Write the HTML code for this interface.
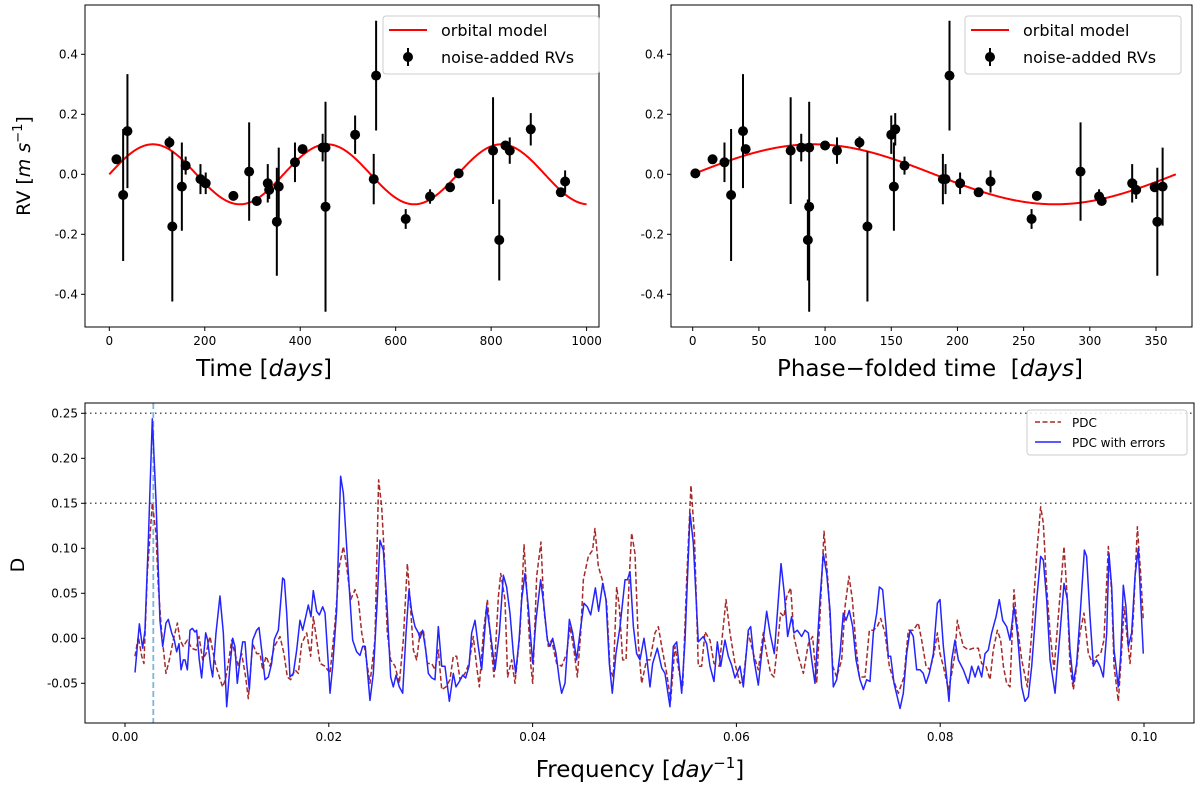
<!DOCTYPE html>
<html><head><meta charset="utf-8"><style>
html,body{margin:0;padding:0;background:#fff;}
svg{display:block;font-family:"DejaVu Sans","Liberation Sans",sans-serif;}
</style></head><body>
<svg id="fig" width="1200" height="787" viewBox="0 0 1200 787" xmlns="http://www.w3.org/2000/svg"></svg>
<script>
// ---- RV data (time in days, RV in m/s, error) ----
const rvTime=[15,29,38,126,132,152,160,191,202,260,293,309,332,335,351,355,389,405,447,453,453,515,559,554,621,672,714,732,804,817,830,839,883,946,955];
const rvValue=[0.05,-0.069,0.144,0.106,-0.174,-0.041,0.029,-0.016,-0.03,-0.072,0.009,-0.089,-0.03,-0.052,-0.158,-0.041,0.04,0.084,0.089,0.089,-0.108,0.132,0.329,-0.016,-0.149,-0.074,-0.043,0.003,0.079,-0.219,0.096,0.079,0.15,-0.06,-0.024];
const rvError=[0.012,0.22,0.19,0.02,0.25,0.147,0.03,0.05,0.036,0.01,0.164,0.01,0.064,0.03,0.18,0.13,0.066,0.01,0.046,0.01,0.35,0.064,0.183,0.084,0.033,0.024,0.01,0.01,0.178,0.135,0.01,0.044,0.054,0.01,0.037];
const modelAmp=0.1, modelPeriod=365;
const topYTicks=[-0.4,-0.2,0.0,0.2,0.4];
const leftXTicks=[0,200,400,600,800,1000];
const rightXTicks=[0,50,100,150,200,250,300,350];
// ---- PDC periodogram ----
const freqBlue=[0.00098,0.00141,0.00173,0.00196,0.00229,0.00268,0.00304,0.00343,0.0037,0.00402,0.00425,0.00458,0.00484,0.00507,0.0053,0.0055,0.00572,0.00589,0.00612,0.00638,0.00661,0.00687,0.00703,0.00729,0.00752,0.00792,0.00811,0.00841,0.0086,0.00893,0.00932,0.00965,0.00998,0.0103,0.01057,0.01079,0.01102,0.01129,0.01155,0.01178,0.01194,0.0122,0.01253,0.01292,0.01315,0.01341,0.01374,0.01407,0.01439,0.01466,0.01505,0.01547,0.01564,0.01587,0.01619,0.01652,0.01685,0.01717,0.01744,0.01766,0.01799,0.01825,0.01848,0.01881,0.01907,0.0194,0.01963,0.01995,0.02012,0.02038,0.02077,0.02116,0.02143,0.02175,0.02208,0.02234,0.02273,0.02306,0.02332,0.02358,0.02404,0.02437,0.02476,0.02502,0.02535,0.02568,0.02607,0.02633,0.0266,0.02692,0.02725,0.02758,0.02787,0.02813,0.02846,0.02879,0.02895,0.02921,0.02951,0.02977,0.0301,0.03042,0.03075,0.03108,0.0314,0.03183,0.03222,0.03248,0.03281,0.03314,0.03343,0.03376,0.03402,0.03435,0.03467,0.035,0.03549,0.03582,0.03631,0.03674,0.03713,0.03745,0.03778,0.03811,0.03834,0.03867,0.03893,0.03925,0.03958,0.04001,0.04033,0.04079,0.04112,0.04145,0.04171,0.04197,0.0423,0.04262,0.04285,0.04318,0.04361,0.04393,0.04432,0.04465,0.04504,0.04537,0.0457,0.04616,0.04648,0.04688,0.0472,0.04753,0.04782,0.04818,0.04858,0.04907,0.0493,0.04956,0.04989,0.05021,0.05054,0.05093,0.05119,0.05152,0.05178,0.05224,0.05267,0.05299,0.05348,0.05381,0.05414,0.05463,0.05496,0.05545,0.05577,0.05626,0.05675,0.05708,0.05741,0.0578,0.05813,0.05846,0.05888,0.05921,0.05954,0.05986,0.06035,0.06068,0.06117,0.0614,0.06173,0.06215,0.06248,0.06297,0.0633,0.06372,0.06402,0.06438,0.0647,0.06503,0.06542,0.06565,0.06598,0.0664,0.06673,0.06706,0.06739,0.06771,0.0682,0.06853,0.06886,0.06919,0.06951,0.06984,0.07017,0.07049,0.07076,0.07108,0.07141,0.07174,0.07213,0.07246,0.07278,0.07311,0.07344,0.07377,0.07403,0.07435,0.07468,0.07491,0.07514,0.07547,0.07606,0.07638,0.07671,0.07704,0.07736,0.07769,0.07802,0.07834,0.07861,0.07893,0.07933,0.07972,0.07998,0.08031,0.08063,0.08086,0.08113,0.08145,0.08178,0.08227,0.08276,0.08309,0.08342,0.08374,0.08407,0.0844,0.08472,0.08505,0.08548,0.0858,0.08613,0.08652,0.08685,0.08724,0.08757,0.088,0.08832,0.08865,0.08898,0.08947,0.08986,0.09012,0.09045,0.09078,0.09127,0.09176,0.09215,0.09248,0.09274,0.09307,0.09339,0.09372,0.09415,0.09437,0.0947,0.09503,0.09535,0.09568,0.09601,0.09634,0.09656,0.09683,0.09706,0.09748,0.09771,0.09797,0.09823,0.09846,0.09879,0.09912,0.09944,0.09967,0.09993];
const dBlue=[-0.038,0.016,-0.011,0.009,0.109,0.244,0.154,0.02,-0.009,0.017,0.021,0.006,-0.002,-0.015,-0.006,-0.035,-0.024,-0.024,-0.035,0.009,0.011,0.007,0.009,-0.024,-0.044,0.006,-0.002,-0.031,-0.043,0.006,0.047,0.006,-0.076,-0.031,0,-0.009,-0.05,-0.024,-0.004,-0.004,-0.028,-0.057,-0.002,0.009,0.012,-0.013,-0.046,-0.043,-0.028,-0.001,0.009,0.067,0.065,0.028,-0.043,-0.039,-0.013,0.02,0.009,0.02,0.037,0.024,0.053,0.03,0.026,0.035,0.028,-0.028,-0.061,-0.031,0.031,0.18,0.161,0.102,0.043,-0.002,-0.015,-0.019,-0.009,-0.009,-0.069,-0.039,0.043,0.109,0.098,0.043,-0.043,-0.054,-0.041,-0.054,-0.061,0.006,0.054,0.03,0.013,0.006,0,0.009,-0.013,-0.039,-0.044,-0.046,0.013,-0.031,-0.031,-0.07,-0.039,-0.054,-0.048,-0.041,-0.044,-0.031,0.006,0.02,-0.009,-0.035,0.035,0.009,-0.035,0.006,0.07,0.057,0.028,-0.017,-0.039,-0.002,0.043,0.072,0.035,-0.028,0.02,0.065,0.035,-0.002,-0.009,0,-0.017,-0.046,-0.061,-0.05,0.021,0.006,-0.024,0.006,0.039,0.035,0.026,0.056,0.03,0.061,0.043,-0.028,-0.061,-0.017,0.013,0.065,0.065,0.074,0.013,-0.017,-0.024,0,-0.02,-0.054,-0.028,-0.011,-0.033,-0.039,-0.076,-0.009,-0.004,-0.061,-0.002,0.139,0.106,-0.004,0.002,-0.006,-0.031,-0.048,-0.004,-0.031,-0.002,-0.02,-0.03,-0.044,-0.031,-0.054,0.009,0.013,-0.024,-0.052,-0.017,0.03,0.006,-0.017,0.028,0.083,0.05,0.002,0.024,0.006,0.009,0.002,0.009,0.006,-0.024,-0.05,0.043,0.094,0.072,0.031,-0.054,-0.046,-0.017,0.028,0.02,0.031,0.013,-0.024,-0.046,-0.057,-0.046,-0.048,0.006,0.028,0.057,0.054,0.013,-0.02,-0.02,-0.05,-0.078,-0.061,-0.017,0.009,0.002,-0.035,-0.035,-0.039,-0.05,-0.039,-0.017,0.039,0.043,-0.009,-0.043,-0.07,-0.024,-0.002,-0.024,-0.035,-0.05,-0.031,-0.043,-0.031,-0.043,-0.017,-0.013,0.006,0.024,0.043,0.02,0.013,-0.002,0.035,0.006,-0.054,-0.07,-0.065,-0.031,0.043,0.091,0.087,0.043,-0.024,-0.061,0.006,0.061,0.043,-0.013,-0.05,-0.028,0.024,0.098,0.091,0.024,-0.031,-0.024,-0.031,-0.043,0.006,0.094,0.057,-0.013,-0.054,-0.02,0.059,0.035,-0.009,0.006,0.069,0.1,0.043,-0.017];
const freqRed=[0.00098,0.00131,0.00164,0.00186,0.00219,0.00268,0.00304,0.00327,0.0036,0.00402,0.00435,0.00474,0.00514,0.0054,0.00572,0.00612,0.00654,0.00697,0.00726,0.00762,0.00795,0.00834,0.00867,0.00893,0.00926,0.00958,0.00985,0.01014,0.01047,0.01079,0.01112,0.01145,0.01184,0.0121,0.01253,0.01292,0.01325,0.01351,0.01384,0.01423,0.01466,0.01521,0.0156,0.01593,0.01626,0.01668,0.01701,0.01734,0.01783,0.01822,0.01848,0.01881,0.01914,0.01963,0.02012,0.02061,0.02103,0.02143,0.02175,0.02215,0.02257,0.0229,0.02323,0.02355,0.02404,0.02453,0.02489,0.02519,0.02542,0.02574,0.02607,0.0265,0.02692,0.02731,0.02771,0.02797,0.0283,0.02862,0.02895,0.02928,0.02967,0.0301,0.03042,0.03075,0.03108,0.0315,0.03189,0.03222,0.03255,0.03288,0.03337,0.03376,0.03418,0.03451,0.03477,0.03517,0.03556,0.03588,0.03621,0.03664,0.03687,0.03729,0.03755,0.03795,0.03827,0.03876,0.03916,0.03948,0.03981,0.04001,0.0404,0.04082,0.04112,0.04154,0.04187,0.04236,0.04285,0.04334,0.04367,0.04406,0.04439,0.04472,0.04498,0.04547,0.04589,0.04612,0.04645,0.04684,0.04727,0.0476,0.04792,0.04825,0.04851,0.04884,0.04917,0.04949,0.04972,0.05005,0.05038,0.0507,0.05119,0.05152,0.05201,0.05234,0.05267,0.05316,0.05355,0.05397,0.0544,0.05473,0.05512,0.05554,0.05587,0.05626,0.05659,0.05692,0.05741,0.0578,0.05832,0.05898,0.05937,0.05986,0.06035,0.06068,0.06117,0.06166,0.06215,0.06264,0.06297,0.06336,0.06369,0.06402,0.06434,0.06467,0.06493,0.06533,0.06565,0.06608,0.06657,0.06706,0.06748,0.06788,0.0682,0.0686,0.06902,0.06945,0.06984,0.07033,0.07066,0.07105,0.07138,0.07174,0.07206,0.07262,0.07305,0.07344,0.07383,0.07416,0.07458,0.07501,0.0754,0.07589,0.07645,0.07687,0.07736,0.07785,0.07818,0.07861,0.079,0.07939,0.07972,0.07998,0.08031,0.0808,0.08113,0.08145,0.08168,0.08194,0.08227,0.08276,0.08325,0.08374,0.08407,0.08449,0.08489,0.08521,0.08561,0.08593,0.0862,0.08652,0.08685,0.08724,0.0875,0.088,0.08855,0.08898,0.08947,0.08986,0.09012,0.09045,0.09078,0.09117,0.09159,0.09215,0.09248,0.09274,0.09307,0.09339,0.09372,0.09411,0.09454,0.09496,0.09535,0.09575,0.09607,0.0965,0.09683,0.09706,0.09748,0.09781,0.09804,0.0983,0.09863,0.09895,0.09935,0.09967,0.09993];
const dRed=[-0.02,0.002,-0.02,-0.028,0.072,0.15,0.117,0.057,0.006,-0.039,-0.024,-0.002,0.017,-0.002,-0.009,-0.002,-0.011,-0.013,0.002,-0.024,-0.017,0.002,-0.017,-0.031,-0.043,-0.054,-0.046,-0.028,-0.002,-0.017,-0.031,-0.017,-0.043,-0.067,-0.006,-0.017,-0.017,-0.035,-0.02,-0.031,-0.009,0.002,-0.017,-0.043,-0.046,-0.035,-0.039,-0.006,0.006,-0.02,0.024,-0.002,-0.028,-0.031,-0.039,0.017,0.08,0.102,0.08,0.043,0.054,0.043,0.006,-0.013,-0.05,-0.002,0.176,0.146,0.098,0.006,-0.024,-0.031,-0.05,-0.002,0.083,0.043,-0.013,-0.024,0.006,0.009,-0.028,-0.028,-0.035,-0.013,-0.057,-0.054,-0.046,-0.02,-0.02,-0.046,-0.039,-0.028,0.002,-0.031,-0.054,0.006,0.043,-0.002,-0.043,0.046,0.072,0.043,-0.043,-0.024,-0.05,0.006,0.104,0.043,-0.028,-0.05,0.069,0.107,0.031,-0.009,-0.002,-0.028,-0.031,-0.017,0.013,-0.013,-0.043,0.006,0.065,0.091,0.098,0.122,0.08,0.065,0.039,-0.035,-0.043,0.057,0.035,-0.024,-0.024,0.069,0.117,0.094,-0.006,-0.05,-0.024,-0.024,0.006,0.013,-0.009,-0.039,-0.069,-0.009,-0.039,-0.054,0.065,0.17,0.117,-0.031,-0.031,0.007,-0.002,-0.028,-0.031,0.043,0.006,-0.028,-0.05,-0.046,0.006,-0.017,-0.035,0.006,-0.017,-0.039,-0.043,-0.009,0.028,0.024,0.046,0.056,0.002,-0.02,-0.039,-0.006,0.002,-0.05,0.024,0.119,0.057,-0.031,-0.043,-0.024,0.035,0.069,0.043,-0.009,-0.043,-0.043,0.009,0.009,0.013,0.022,0.006,-0.031,-0.046,-0.061,-0.043,0.009,0.009,0.017,-0.002,-0.031,-0.035,-0.017,0.006,-0.017,-0.031,-0.057,-0.039,-0.017,0.02,0.006,-0.009,-0.013,-0.011,-0.011,-0.028,-0.031,-0.046,-0.013,0.009,-0.002,-0.031,-0.05,-0.054,0.054,0.02,-0.024,-0.054,0.006,0.094,0.146,0.128,0.057,0.006,-0.035,0.024,0.102,0.043,-0.031,-0.057,-0.031,0.006,0.028,-0.017,-0.028,-0.02,-0.017,-0.002,0.102,0.05,-0.031,-0.07,-0.013,0.035,0.006,-0.028,0.024,0.124,0.072,0.02];
const pdcYTicks=[-0.05,0.00,0.05,0.10,0.15,0.20,0.25];
const pdcXTicks=[0.00,0.02,0.04,0.06,0.08,0.10];
const thresholds=[0.25,0.15];
const peakFreq=1/360;

const NS="http://www.w3.org/2000/svg";
const svg=document.getElementById('fig');
function mk(tag,attrs,parent){const e=document.createElementNS(NS,tag);for(const k in attrs)e.setAttribute(k,attrs[k]);(parent||svg).appendChild(e);return e;}
function lin(d0,d1,r0,r1){return v=>r0+(v-d0)*(r1-r0)/(d1-d0);}

const yTop=lin(0,1,174.3,-125.7);
const xLeft=lin(0,1000,109.3,586.6);
const xRight=lin(0,350,692.7,1156);
const xF=lin(0,0.1,125,1144);
const yF=lin(0,1,638.3,-261.7);

function frame(x0,y0,x1,y1,name){
  const r=mk('rect',{x:x0,y:y0,width:x1-x0,height:y1-y0,fill:'none',stroke:'#000','stroke-width':1});
  
  
}
function yticks(ticks,ys,xs,fmt,name,fs){
  const g=mk('g',{});
  
  
  ticks.forEach(t=>{const y=ys(t);mk('line',{x1:xs-4,x2:xs,y1:y,y2:y,stroke:'#000'},g);
    const tx=mk('text',{x:xs-7,y:y+4,'text-anchor':'end','font-size':fs},g);tx.textContent=fmt(t);});
}
function xticks(ticks,xs,yb,fmt,name,fs){
  const g=mk('g',{});
  
  
  ticks.forEach(t=>{const x=xs(t);mk('line',{x1:x,x2:x,y1:yb,y2:yb+4,stroke:'#000'},g);
    const tx=mk('text',{x:x,y:yb+18,'text-anchor':'middle','font-size':fs},g);tx.textContent=fmt(t);});
}

function rvPanel(xs,tvals,x0,x1,modelEnd,prefix){
  mk('clipPath',{id:prefix+'clip'}).appendChild(document.createElementNS(NS,'rect'));
  const cr=svg.querySelector('#'+prefix+'clip rect');cr.setAttribute('x',x0);cr.setAttribute('y',5);cr.setAttribute('width',x1-x0);cr.setAttribute('height',322);
  let d='';for(let i=0;i<=400;i++){const t=modelEnd*i/400;d+=(i?'L':'M')+xs(t).toFixed(2)+','+yTop(modelAmp*Math.sin(2*Math.PI*t/modelPeriod)).toFixed(2);}
  const m=mk('path',{d:d,fill:'none',stroke:'#ff0000','stroke-width':2,'clip-path':'url(#'+prefix+'clip)'});
  
  
  const g=mk('g',{'clip-path':'url(#'+prefix+'clip)'});
  
  
  tvals.forEach((t,i)=>{const x=xs(t);
    const l=mk('line',{x1:x,x2:x,y1:yTop(rvValue[i]+rvError[i]),y2:yTop(rvValue[i]-rvError[i]),stroke:'#000','stroke-width':2},g);
    
    
    const c=mk('circle',{cx:x,cy:yTop(rvValue[i]),r:5,fill:'#000'},g);
    
    
  });
  frame(x0,5,x1,327,prefix+'axes-frame');
  yticks(topYTicks,yTop,x0,t=>t.toFixed(1),prefix+'y-ticks',12);
}
rvPanel(xLeft,rvTime,85,599,1000,'time-');
xticks(leftXTicks,xLeft,327,t=>String(t),'time-x-ticks',12);
const foldT=rvTime.map(t=>t%modelPeriod);
rvPanel(xRight,foldT,671,1192,modelPeriod,'phase-');
xticks(rightXTicks,xRight,327,t=>String(t),'phase-x-ticks',12);

function legendRV(x0,name){
  const g=mk('g',{});
  
  
  mk('rect',{x:x0,y:16,width:216,height:58,rx:3,fill:'#fff','fill-opacity':0.85,stroke:'#ccc'},g);
  mk('line',{x1:x0+6,x2:x0+44,y1:30,y2:30,stroke:'#ff0000','stroke-width':2},g);
  let t=mk('text',{x:x0+58,y:36,'font-size':16},g);t.textContent='orbital model';
  mk('line',{x1:x0+25,x2:x0+25,y1:48,y2:66,stroke:'#000','stroke-width':2},g);
  mk('circle',{cx:x0+25,cy:57,r:5,fill:'#000'},g);
  t=mk('text',{x:x0+58,y:63,'font-size':16},g);t.textContent='noise-added RVs';
}
legendRV(383,'legend-time');
legendRV(965,'legend-phase');

let lab=mk('text',{x:264,y:376,'text-anchor':'middle','font-size':23});

lab.innerHTML='Time [<tspan font-style="italic">days</tspan>]';
lab=mk('text',{x:930,y:376,'text-anchor':'middle','font-size':23});

lab.innerHTML='Phase−folded time\u00a0 [<tspan font-style="italic">days</tspan>]';
lab=mk('text',{x:0,y:0,'text-anchor':'middle','font-size':19,transform:'translate(30,166) rotate(-90)'});

lab.innerHTML='RV [<tspan font-style="italic">m s</tspan><tspan font-size="13" dy="-8">−1</tspan><tspan dy="8">]</tspan>';

mk('clipPath',{id:'pclip'}).appendChild(document.createElementNS(NS,'rect'));
{const cr=svg.querySelector('#pclip rect');cr.setAttribute('x',85);cr.setAttribute('y',403);cr.setAttribute('width',1109);cr.setAttribute('height',320);}
thresholds.forEach(v=>{const l=mk('line',{x1:85,x2:1194,y1:yF(v),y2:yF(v),stroke:'#555','stroke-width':1.5,'stroke-dasharray':'1.5,3.5'});
  
  });
{const l=mk('line',{x1:xF(peakFreq),x2:xF(peakFreq),y1:403,y2:723,stroke:'#7fb3d9','stroke-width':1.8,'stroke-dasharray':'6,3'});
 
 }
function curve(fs,ds,color,dash,name){
  const d=fs.map((f,i)=>(i?'L':'M')+xF(f).toFixed(2)+','+yF(ds[i]).toFixed(2)).join('');
  const p=mk('path',{d:d,fill:'none',stroke:color,'stroke-width':1.5,'stroke-linejoin':'round','clip-path':'url(#pclip)'});
  if(dash)p.setAttribute('stroke-dasharray',dash);
  
  
}
curve(freqRed,dRed,'#a52a2a','5,2.5','pdc-line');
curve(freqBlue,dBlue,'#2424ff',null,'pdc-with-errors-line');
frame(85,403,1194,723,'pdc-axes-frame');
yticks(pdcYTicks,yF,85,t=>t.toFixed(2),'pdc-y-ticks',12);
xticks(pdcXTicks,xF,723,t=>t.toFixed(2),'pdc-x-ticks',12);
{const g=mk('g',{});
 
 
 mk('rect',{x:1027,y:410,width:160,height:45,rx:3,fill:'#fff','fill-opacity':0.85,stroke:'#ccc'},g);
 mk('line',{x1:1035,x2:1061,y1:422,y2:422,stroke:'#a52a2a','stroke-width':1.5,'stroke-dasharray':'5,2.5'},g);
 let t=mk('text',{x:1072,y:427,'font-size':12},g);t.textContent='PDC';
 mk('line',{x1:1035,x2:1061,y1:442,y2:442,stroke:'#2424ff','stroke-width':1.5},g);
 t=mk('text',{x:1072,y:447,'font-size':12},g);t.textContent='PDC with errors';}
lab=mk('text',{x:640,y:777,'text-anchor':'middle','font-size':23});

lab.innerHTML='Frequency [<tspan font-style="italic">day</tspan><tspan font-size="15" dy="-9">−1</tspan><tspan dy="9">]</tspan>';
lab=mk('text',{x:0,y:0,'text-anchor':'middle','font-size':19,transform:'translate(24,565) rotate(-90)'});

lab.textContent='D';
</script>
</body></html>
